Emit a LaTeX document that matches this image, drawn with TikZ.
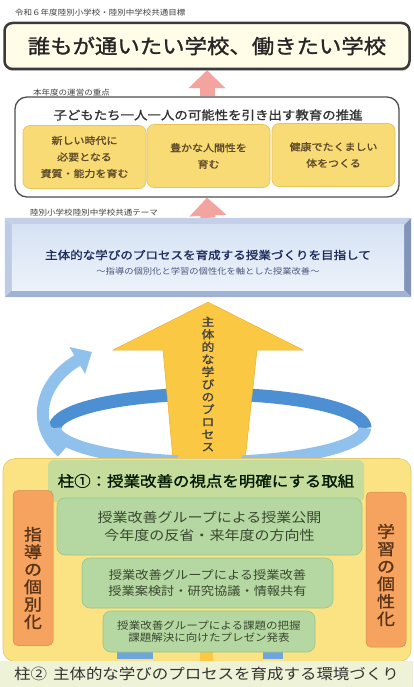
\documentclass[tikz,border=0pt]{standalone}
\usepackage{fontspec}
\newfontfamily\jp[FakeStretch=1.12]{Noto Sans CJK JP}
\newfontfamily\jpb[FakeStretch=1.12,FakeBold=1.3]{Noto Sans CJK JP}
\usetikzlibrary{arrows.meta,backgrounds,calc,shadows}
\definecolor{cream}{HTML}{FFFCE8}
\definecolor{frame}{HTML}{3A3A3A}
\definecolor{pinkA}{HTML}{F4A49E}
\definecolor{yel}{HTML}{F8DB74}
\definecolor{yelE}{HTML}{E6C45A}
\definecolor{brownT}{HTML}{5C4A2A}
\definecolor{navy}{HTML}{1E2D5C}
\definecolor{bevM}{HTML}{9FB2D4}
\definecolor{bevL}{HTML}{C3D0E8}
\definecolor{bevD}{HTML}{8195BA}
\definecolor{blueTop}{HTML}{D6E2F4}
\definecolor{blueBot}{HTML}{ECF2FA}
\definecolor{arrowY}{HTML}{FBC844}
\definecolor{arrowE}{HTML}{E9AF2F}
\definecolor{ribD}{HTML}{4C8FD3}
\definecolor{ribL}{HTML}{8FC1EC}
\definecolor{panelY}{HTML}{FBE383}
\definecolor{panelE}{HTML}{E3C76A}
\definecolor{grnH}{HTML}{C6DC9C}
\definecolor{grn}{HTML}{B5D7A2}
\definecolor{grnE}{HTML}{98C589}
\definecolor{grnT}{HTML}{3A4830}
\definecolor{orng}{HTML}{F5A35F}
\definecolor{orngT}{HTML}{5A3418}
\definecolor{stripC}{HTML}{EEF2D6}
\begin{document}
\begin{tikzpicture}[x=1pt,y=-1pt,font=\jp,
  smalllabel/.style={anchor=west,font=\jp\fontsize{7.6}{8}\selectfont,text=black!75,inner sep=0pt},
  yelbox/.style={fill=yel,draw=yelE,line width=0.6pt,rounded corners=7pt,minimum width=123pt,minimum height=63pt,align=center,text=brownT,font=\jpb\fontsize{9.8}{16.5}\selectfont,inner sep=0pt},
  grnbox/.style={fill=grn,draw=grnE,line width=0.6pt,rounded corners=8pt,align=center,text=grnT,inner sep=0pt},
  orbox/.style={fill=orng,draw=orng!85!black,line width=0.5pt,rounded corners=5pt,minimum width=40pt,minimum height=155pt,inner sep=0pt},
  ortext/.style={align=center,text=orngT,font=\jpb\fontsize{16}{17.5}\selectfont,inner sep=0pt},
  pinkarrow/.style={line width=15pt,draw=pinkA,-{Triangle[width=36pt,length=18pt]}},
  ribbon/.style={line width=12pt,draw=ribL},
]
\useasboundingbox (0,0) rectangle (413,687);

% ---------- top goal ----------
\node[smalllabel] (lab1) at (15,13) {令和６年度陸別小学校・陸別中学校共通目標};
\node[draw=frame,line width=2.5pt,fill=cream,rounded corners=8pt,minimum width=405pt,minimum height=46pt,
      drop shadow={shadow xshift=0.5pt,shadow yshift=-2pt,fill=black!45},
      font=\jpb\fontsize{20}{24}\selectfont,text=black!85] (goal) at (207,46) {誰もが通いたい学校、働きたい学校};

% ---------- focus ----------
\node[smalllabel] (lab2) at (33,93) {本年度の運営の重点};
\node[draw=frame!90,line width=1.3pt,fill=white,rounded corners=12pt,minimum width=384pt,minimum height=100pt] (focus) at (207,147) {};
\node[font=\jpb\fontsize{12}{14}\selectfont,text=black!80] (focusT) at (208,115) {子どもたち一人一人の可能性を引き出す教育の推進};
\node[yelbox] (f1) at (84.5,157) {新しい時代に\\必要となる\\資質・能力を育む};
\node[yelbox] (f2) at (208.5,156) {豊かな人間性を\\育む};
\node[yelbox] (f3) at (333.5,155) {健康でたくましい\\体をつくる};

% ---------- theme ----------
\node[smalllabel] (lab3) at (30,213) {陸別小学校陸別中学校共通テーマ};
\node[minimum width=406pt,minimum height=79pt,inner sep=0pt] (theme) at (208,257.5) {};
\fill[bevL] (theme.north west) -- (theme.north east) -- ($(theme.north east)+(-7,7)$) -- ($(theme.north west)+(7,7)$) -- cycle;
\fill[bevL!85!bevM] (theme.north west) -- ($(theme.north west)+(7,7)$) -- ($(theme.south west)+(7,-7)$) -- (theme.south west) -- cycle;
\fill[bevD] (theme.north east) -- (theme.south east) -- ($(theme.south east)+(-7,-7)$) -- ($(theme.north east)+(-7,7)$) -- cycle;
\fill[bevM] (theme.south west) -- (theme.south east) -- ($(theme.south east)+(-7,-7)$) -- ($(theme.south west)+(7,-7)$) -- cycle;
\shade[top color=blueTop,bottom color=blueBot] ($(theme.north west)+(7,7)$) rectangle ($(theme.south east)+(-7,-7)$);
\node[font=\jpb\fontsize{11.2}{13}\selectfont,text=navy] (themeT) at (208,255) {主体的な学びのプロセスを育成する授業づくりを目指して};
\node[font=\jp\fontsize{8.3}{10}\selectfont,text=navy!80] (themeS) at (208,271) {～指導の個別化と学習の個性化を軸とした授業改善～};

% ---------- background + pink arrows ----------
\begin{scope}[on background layer]
\fill[white] (0,0) rectangle (413,687);
\draw[pinkarrow] (focus.north) -- (goal.south);
\draw[pinkarrow] (theme.north) -- (focus.south);
\end{scope}

% ---------- ribbon (back) ----------
\draw[line width=13pt,draw=ribD] plot[domain=180:360,samples=60] ({210+155*cos(\x)},{428+34*sin(\x)});
\draw[ribbon,-{Triangle[width=30pt,length=17pt]}] (62,452) .. controls (30,425) and (40,382) .. (92,352);

% ---------- big yellow arrow ----------
\coordinate (ytip) at ($(theme.south)+(0,5)$);
\fill[arrowY,draw=arrowE,line width=0.5pt] (ytip) -- (113,350) -- (163,350) -- (174,470) -- (244,470) -- (257,350) -- (303,350) -- cycle;
\node[align=center,font=\jpb\fontsize{11.3}{12.5}\selectfont,text=black!75,inner sep=0pt] (vt) at (208,384)
  {主\\体\\的\\な\\学\\び\\の\\プ\\ロ\\セ\\ス};

% ---------- ribbon (front) ----------
\draw[ribbon] plot[domain=0:78,samples=30] ({210+155*cos(\x)},{428+34*sin(\x)});
\draw[ribbon] plot[domain=102:180,samples=30] ({210+155*cos(\x)},{428+34*sin(\x)});

% ---------- pillar 1 ----------
\node[fill=panelY,draw=panelE,line width=0.6pt,rounded corners=12pt,minimum width=408pt,minimum height=203pt,inner sep=0pt] (pillar) at (207,560) {};
\fill[arrowY] (200,652) rectangle (213,662);
\fill[ribD!80] (117,651) rectangle (153,659);
\fill[ribD!80] (263,651) rectangle (283,659);
\node[fill=grnH,rounded corners=6pt,minimum width=316pt,minimum height=42pt,inner sep=0pt,
      font=\jpb\fontsize{14.7}{16}\selectfont,text=black!75!green!40!black] (pillarT) at (206,481) {柱①：授業改善の視点を明確にする取組};
\node[grnbox,minimum width=305pt,minimum height=57pt,font=\jp\fontsize{13.4}{18}\selectfont] (gA) at (209.5,526.5)
  {授業改善グループによる授業公開\\今年度の反省・来年度の方向性};
\node[grnbox,minimum width=251pt,minimum height=50pt,font=\jp\fontsize{11.8}{15.5}\selectfont] (gB) at (207.5,583)
  {授業改善グループによる授業改善\\授業案検討・研究協議・情報共有};
\node[grnbox,minimum width=212pt,minimum height=41pt,font=\jp\fontsize{10.3}{11.5}\selectfont] (gC) at (209,631.5)
  {授業改善グループによる課題の把握\\課題解決に向けたプレゼン発表};
\node[orbox] (oL) at (33,568) {};
\node[ortext] (oLt) at (33,578) {指\\導\\の\\個\\別\\化};
\node[orbox] (oR) at (386,569.5) {};
\node[ortext] (oRt) at (386,575) {学\\習\\の\\個\\性\\化};

% ---------- pillar 2 ----------
\node[fill=stripC,minimum width=413pt,minimum height=27pt,inner sep=0pt,
      font=\jp\fontsize{14.7}{16}\selectfont,text=black!80] (pillar2) at (206.5,674) {柱②\hspace{6pt}主体的な学びのプロセスを育成する環境づくり};
\end{tikzpicture}
\end{document}
